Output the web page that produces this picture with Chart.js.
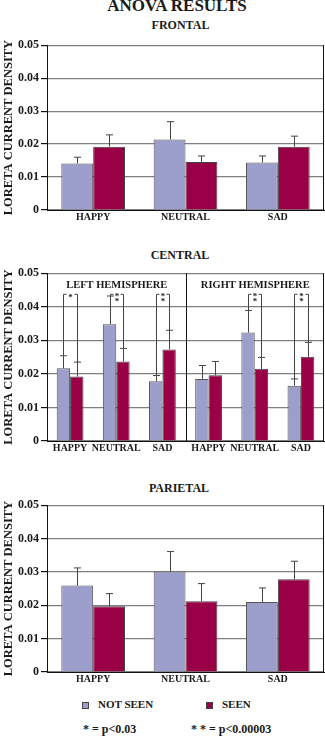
<!DOCTYPE html>
<html>
<head>
<meta charset="utf-8">
<script src="https://cdn.jsdelivr.net/npm/chart.js@4"></script>
<style>
  body { margin: 0; background: #fff; }
  #page { position: relative; width: 325px; height: 736px; overflow: hidden;
          font-family: "Liberation Serif", "Times New Roman", serif; font-weight: bold; color: #1a1a1a; }
  .t { position: absolute; white-space: nowrap; line-height: 1; }
  .c { position: absolute; left: 0; width: 325px; }
  .sq { position: absolute; width: 5px; height: 5px; border: 1px solid #444; }
</style>
</head>
<body>
<div id="page">
  <div class="t" style="top:-3px;left:0;width:354px;text-align:center;font-size:17px;">ANOVA RESULTS</div>
  <div class="t" style="top:19px;left:0;width:361px;text-align:center;font-size:12px;">FRONTAL</div>
  <div class="c" style="top:36px;height:192px;"><canvas id="frontal"></canvas></div>

  <div class="t" style="top:249px;left:0;width:360px;text-align:center;font-size:12px;">CENTRAL</div>
  <div class="c" style="top:264px;height:195px;"><canvas id="central"></canvas></div>

  <div class="t" style="top:482px;left:0;width:358px;text-align:center;font-size:12px;">PARIETAL</div>
  <div class="c" style="top:496px;height:194px;"><canvas id="parietal"></canvas></div>

  <div class="sq" style="left:82px;top:702px;background:#9c9ecb;"></div>
  <div class="t" style="left:98px;top:699px;font-size:11px;">NOT SEEN</div>
  <div class="sq" style="left:206px;top:702px;background:#9a0046;"></div>
  <div class="t" style="left:222px;top:699px;font-size:11px;">SEEN</div>

  <div class="t" style="left:83px;top:723px;font-size:12px;">* = p&lt;0.03</div>
  <div class="t" style="left:191px;top:723px;font-size:12px;">* * = p&lt;0.00003</div>
</div>

<script>
// categories
const emotions = ['HAPPY', 'NEUTRAL', 'SAD'];
const centralLabels = ['HAPPY', 'NEUTRAL', 'SAD', 'HAPPY', 'NEUTRAL', 'SAD'];
const yTicks = [0, 0.01, 0.02, 0.03, 0.04, 0.05];

// frontal
const frontalNotSeen = [0.0141, 0.0214, 0.0144];
const frontalNotSeenErr = [0.0019, 0.0054, 0.0020];
const frontalSeen = [0.0192, 0.0146, 0.0192];
const frontalSeenErr = [0.0036, 0.0018, 0.0032];

// central (left hemisphere then right hemisphere)
const centralNotSeen = [0.0217, 0.0348, 0.0178, 0.0185, 0.0323, 0.0165];
const centralNotSeenErr = [0.0037, 0.0084, 0.0017, 0.0040, 0.0066, 0.0020];
const centralSeen = [0.0192, 0.0237, 0.0273, 0.0196, 0.0215, 0.0251];
const centralSeenErr = [0.0043, 0.0039, 0.0057, 0.0041, 0.0034, 0.0043];
const centralSig = ['*', '**', '**', '', '**', '**'];
const bracketTop = 0.0437;

// parietal
const parietalNotSeen = [0.0259, 0.0301, 0.0210];
const parietalNotSeenErr = [0.0053, 0.0060, 0.0042];
const parietalSeen = [0.0197, 0.0212, 0.0278];
const parietalSeenErr = [0.0038, 0.0053, 0.0054];

const NS_COLOR = '#9c9ecb';
const SEEN_COLOR = '#9a0046';
const FONT = '"Liberation Serif", "Times New Roman", serif';

Chart.defaults.font.family = FONT;
Chart.defaults.font.weight = 'bold';
Chart.defaults.color = '#1a1a1a';

// upward error bars with a cap, plus right border of the box
const errorBars = {
  id: 'errorBars',
  afterDatasetsDraw(chart) {
    const ctx = chart.ctx;
    const y = chart.scales.y;
    const area = chart.chartArea;
    ctx.save();
    ctx.strokeStyle = '#444';
    ctx.lineWidth = 1;
    chart.data.datasets.forEach((ds, di) => {
      chart.getDatasetMeta(di).data.forEach((bar, i) => {
        const top = y.getPixelForValue(ds.data[i] + ds.errors[i]);
        const x = Math.round(bar.x) + 0.5;
        ctx.beginPath();
        ctx.moveTo(x, bar.y);
        ctx.lineTo(x, top);
        ctx.moveTo(x - 3.5, top);
        ctx.lineTo(x + 3.5, top);
        ctx.stroke();
      });
    });
    ctx.strokeStyle = '#111';
    ctx.beginPath();
    ctx.moveTo(area.right - 0.5, area.top);
    ctx.lineTo(area.right - 0.5, area.bottom);
    ctx.stroke();
    ctx.restore();
  }
};

// divider, hemisphere labels and significance brackets for the central panel
const centralExtras = {
  id: 'centralExtras',
  afterDatasetsDraw(chart) {
    const ctx = chart.ctx;
    const x = chart.scales.x;
    const y = chart.scales.y;
    const area = chart.chartArea;
    const mid = Math.round((x.getPixelForValue(2) + x.getPixelForValue(3)) / 2) + 0.5;
    ctx.save();
    ctx.strokeStyle = '#111';
    ctx.lineWidth = 1;
    ctx.beginPath();
    ctx.moveTo(mid, area.top);
    ctx.lineTo(mid, area.bottom);
    ctx.stroke();

    ctx.fillStyle = '#1a1a1a';
    ctx.font = 'bold 10.5px ' + FONT;
    ctx.textAlign = 'center';
    ctx.textBaseline = 'alphabetic';
    ctx.fillText('LEFT HEMISPHERE', (area.left + mid) / 2, area.top + 15);
    ctx.fillText('RIGHT HEMISPHERE', (mid + area.right) / 2, area.top + 15);

    const ns = chart.getDatasetMeta(0).data;
    const sn = chart.getDatasetMeta(1).data;
    const yb = y.getPixelForValue(bracketTop);
    ctx.strokeStyle = '#444';
    ctx.font = 'bold 9px ' + FONT;
    centralSig.forEach((sig, i) => {
      if (!sig) return;
      const x1 = Math.round(ns[i].x) + 0.5;
      const x2 = Math.round(sn[i].x) + 0.5;
      const y1 = y.getPixelForValue(centralNotSeen[i] + centralNotSeenErr[i]);
      const y2 = y.getPixelForValue(centralSeen[i] + centralSeenErr[i]);
      ctx.beginPath();
      ctx.moveTo(x1, y1);
      ctx.lineTo(x1, yb);
      ctx.lineTo(x1 + 3, yb);
      ctx.moveTo(x2, y2);
      ctx.lineTo(x2, yb);
      ctx.lineTo(x2 - 3, yb);
      ctx.stroke();
      const cx = (x1 + x2) / 2;
      if (sig === '*') {
        ctx.fillText('*', cx, yb + 6);
      } else {
        ctx.fillText('*', cx, yb + 5);
        ctx.fillText('*', cx, yb + 10);
      }
    });
    ctx.restore();
  }
};

function makeChart(id, labels, ns, nsErr, seen, seenErr, catPct, padTop, extra) {
  const plugins = [errorBars];
  if (extra) plugins.push(extra);
  return new Chart(document.getElementById(id), {
    type: 'bar',
    data: {
      labels: labels,
      datasets: [
        { label: 'NOT SEEN', data: ns, errors: nsErr, backgroundColor: NS_COLOR,
          borderColor: '#555', borderWidth: 1 },
        { label: 'SEEN', data: seen, errors: seenErr, backgroundColor: SEEN_COLOR,
          borderColor: '#444', borderWidth: 1 }
      ]
    },
    options: {
      responsive: true,
      maintainAspectRatio: false,
      animation: false,
      layout: { padding: { top: padTop, right: 1, left: 0, bottom: 0 } },
      plugins: { legend: { display: false }, tooltip: { enabled: false } },
      datasets: { bar: { categoryPercentage: catPct, barPercentage: 1.0 } },
      scales: {
        x: {
          grid: { display: false, drawTicks: false, tickLength: 0 },
          border: { color: '#111', width: 1 },
          ticks: { font: { size: 10, weight: 'bold' }, padding: 1, maxRotation: 0, autoSkip: false },
          afterFit: s => { s.height = 18; }
        },
        y: {
          min: 0,
          max: 0.05,
          afterBuildTicks: s => { s.ticks = yTicks.map(v => ({ value: v })); },
          grid: { color: '#808080', lineWidth: 1.2, tickColor: '#111', tickLength: 6 },
          border: { color: '#111', width: 1 },
          ticks: {
            font: { size: 12, weight: 'bold' },
            padding: 2,
            callback: v => v === 0 ? '0' : v.toFixed(2)
          },
          title: {
            display: true,
            text: 'LORETA CURRENT DENSITY',
            font: { size: 12.5, weight: 'bold' },
            padding: { top: 1, bottom: 0 }
          },
          afterFit: s => { s.width = 47; }
        }
      }
    },
    plugins: plugins
  });
}

makeChart('frontal', emotions, frontalNotSeen, frontalNotSeenErr, frontalSeen, frontalSeenErr, 0.69, 7);
makeChart('central', centralLabels, centralNotSeen, centralNotSeenErr, centralSeen, centralSeenErr, 0.58, 9, centralExtras);
makeChart('parietal', emotions, parietalNotSeen, parietalNotSeenErr, parietalSeen, parietalSeenErr, 0.69, 9);
</script>
</body>
</html>
